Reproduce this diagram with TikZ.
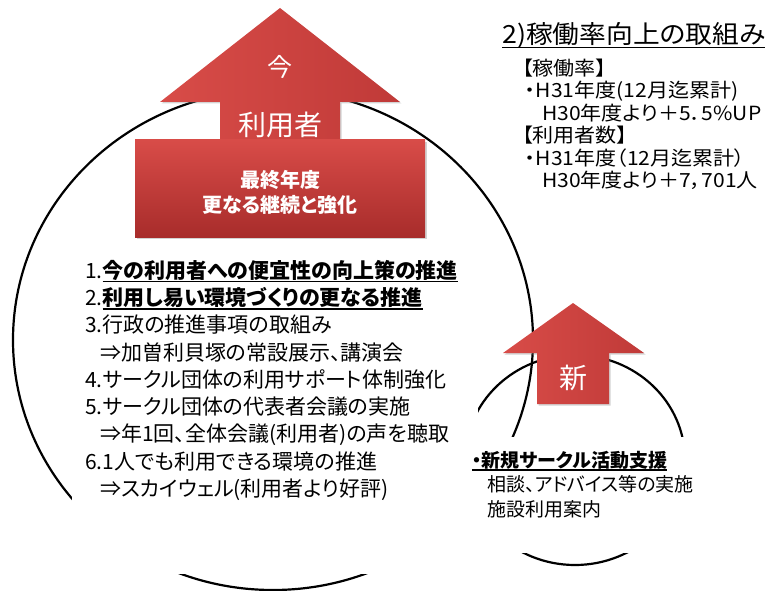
\documentclass[tikz,border=0pt]{standalone}
\usepackage{fontspec}
\setmainfont{Noto Sans CJK JP}[RawFeature=+palt]
\usepackage{tikz}
\usetikzlibrary{shadows}
\definecolor{redlight}{RGB}{216,76,72}
\definecolor{reddark}{RGB}{168,44,43}
\definecolor{redmid}{RGB}{192,58,56}
\newcommand{\undl}[1]{\setbox0\hbox{#1}\rlap{\rule[-0.2em]{\wd0}{0.07em}}\box0}
\tikzstyle{redarrow} = [left color=redlight, right color=redmid, drop shadow={shadow xshift=1.5pt, shadow yshift=-1.5pt, opacity=0.35}]
\tikzstyle{redbox} = [top color=redlight, bottom color=reddark, drop shadow={shadow xshift=1.5pt, shadow yshift=-2pt, opacity=0.35}]
\tikzstyle{whitetext} = [text=white, inner sep=0pt]
\tikzstyle{blacktext} = [text=black, inner sep=0pt, align=left, anchor=base west]
\tikzstyle{ring} = [line width=2.2pt]

\begin{document}
\begin{tikzpicture}[x=1pt, y=-1pt]
    \useasboundingbox (0,0) rectangle (771,591);

    \draw [ring] (273,340) ellipse [x radius=260pt, y radius=250pt];
    \draw [ring] (575,460) ellipse [x radius=110pt, y radius=105pt];
    \fill [white] (72,252) rectangle (478,574);
    \fill [white] (463,437) rectangle (692,553);

    \path [redarrow] (160,102) -- (280,8) -- (400,102) -- (340,102) -- (340,150) -- (220,150) -- (220,102) -- cycle;
    \node (ima) [whitetext, font=\fontsize{25}{25}\selectfont] at (280,67) {今};
    \node (riyousha) [whitetext, font=\fontsize{28}{28}\selectfont] at (280,125) {利用者};
    \path [redbox] (135,140) rectangle (425,237);
    \node (saishu) [whitetext, align=center, font=\fontsize{20}{25}\selectfont\bfseries] at (280,192) {最終年度\\更なる継続と強化};

    \path [redarrow] (503,353) -- (573,303) -- (644,353) -- (609,353) -- (609,404) -- (537,404) -- (537,353) -- cycle;
    \node (shin) [whitetext, font=\fontsize{28}{28}\selectfont] at (573,378) {新};

    \node (title) [blacktext, font=\fontsize{25}{25}\selectfont\addfontfeature{FakeStretch=1.07}] at (502,43.5) {\undl{2)稼働率向上の取組み}};
    \node (stats) [blacktext, font=\fontsize{19.5}{22.4}\selectfont\addfontfeature{FakeStretch=1.08}] at (522,187.5) {【稼働率】\\
        \hspace{3pt}・H31年度(12月迄累計)\\
        \hspace{20pt}H30年度より＋5．5\%UP\\
        【利用者数】\\
        \hspace{3pt}・H31年度（12月迄累計）\\
        \hspace{20pt}H30年度より＋7，701人};

    \node (plan) [blacktext, font=\fontsize{21}{27.3}\selectfont] at (85,496.5) {1.\textbf{\undl{今の利用者への便宜性の向上策の推進}}\\
        2.\textbf{\undl{利用し易い環境づくりの更なる推進}}\\
        3.行政の推進事項の取組み\\
        \hspace{15pt}⇒加曽利貝塚の常設展示、講演会\\
        4.サークル団体の利用サポート体制強化\\
        5.サークル団体の代表者会議の実施\\
        \hspace{15pt}⇒年1回、全体会議(利用者)の声を聴取\\
        6.1人でも利用できる環境の推進\\
        \hspace{15pt}⇒スカイウェル(利用者より好評)};

    \node (shinki) [blacktext, font=\fontsize{19}{24.5}\selectfont] at (472,516) {\textbf{\undl{・新規サークル活動支援}}\\
        \hspace{15pt}相談、アドバイス等の実施\\
        \hspace{15pt}施設利用案内};
\end{tikzpicture}
\end{document}
